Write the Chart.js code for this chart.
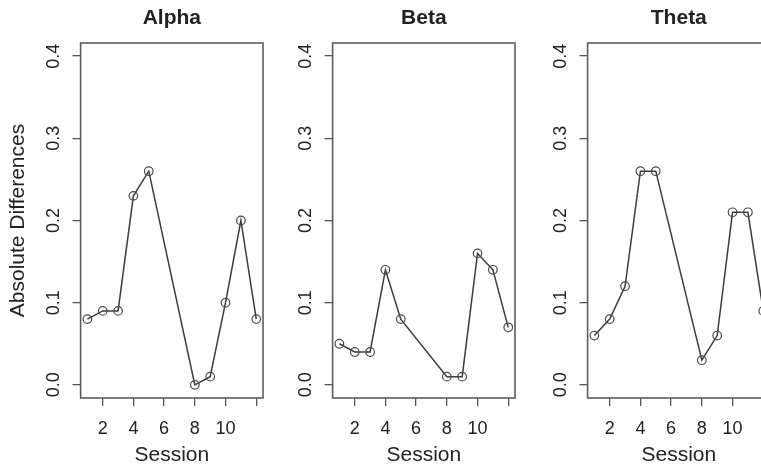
<!DOCTYPE html>
<html>
<head>
<meta charset="utf-8">
<script src="https://cdn.jsdelivr.net/npm/chart.js@4"></script>
<style>
  html, body { margin: 0; padding: 0; background: #fff; }
  body { position: relative; width: 761px; height: 472px; overflow: hidden; }
  canvas { position: absolute; top: 0; }
</style>
</head>
<body>
<canvas id="alpha"></canvas>
<canvas id="beta"></canvas>
<canvas id="theta"></canvas>
<script>
// Sessions 6 and 7 have no measurement, lines jump from 5 to 8
const sessions = [1, 2, 3, 4, 5, 8, 9, 10, 11, 12];
const alphaValues = [0.08, 0.09, 0.09, 0.23, 0.26, 0.00, 0.01, 0.10, 0.20, 0.08];
const betaValues = [0.05, 0.04, 0.04, 0.14, 0.08, 0.01, 0.01, 0.16, 0.14, 0.07];
const thetaValues = [0.06, 0.08, 0.12, 0.26, 0.26, 0.03, 0.06, 0.21, 0.21, 0.09];

const xTicks = [2, 4, 6, 8, 10, 12];
const xTickLabels = ['2', '4', '6', '8', '10', ''];
const yTicks = [0, 0.1, 0.2, 0.3, 0.4];
const yTickLabels = ['0.0', '0.1', '0.2', '0.3', '0.4'];

const FONT = "'Liberation Sans', Arial, Helvetica, sans-serif";
const TEXT = '#222';

// layout (px)
const AXIS_W = 80.6;   // y axis strip left of the plot box
const BOX_W = 182.4;
const BOX_TOP = 43;
const X_AXIS_H = 74;
const RIGHT_PAD = 8;

// R style frame round the plot region
const boxPlugin = {
  id: 'rbox',
  beforeDatasetsDraw(chart) {
    const { ctx, chartArea: a } = chart;
    ctx.save();
    ctx.strokeStyle = '#5c5c5c';
    ctx.lineWidth = 1.6;
    ctx.strokeRect(a.left, a.top, a.right - a.left, a.bottom - a.top);
    ctx.restore();
  }
};

function makePanel(id, left, title, values, showYTitle) {
  const canvas = document.getElementById(id);
  const w = AXIS_W + BOX_W + RIGHT_PAD;
  canvas.width = w;
  canvas.height = 472;
  canvas.style.left = (left - AXIS_W) + 'px';
  canvas.style.width = w + 'px';
  canvas.style.height = '472px';

  return new Chart(canvas.getContext('2d'), {
    type: 'line',
    data: {
      datasets: [{
        data: sessions.map((s, i) => ({ x: s, y: values[i] })),
        borderColor: '#3c3c3c',
        borderWidth: 1.5,
        tension: 0,
        fill: false,
        pointRadius: 4.3,
        pointBorderWidth: 1.2,
        pointBorderColor: '#4a4a4a',
        pointBackgroundColor: 'rgba(0,0,0,0)',
        clip: false
      }]
    },
    options: {
      responsive: false,
      animation: false,
      devicePixelRatio: 1,
      layout: { padding: { top: 0, right: RIGHT_PAD, bottom: 0, left: 0 } },
      plugins: {
        legend: { display: false },
        tooltip: { enabled: false },
        title: {
          display: true,
          text: title,
          fullSize: false,
          color: TEXT,
          font: { family: FONT, size: 21, weight: 'bold', lineHeight: 1.2 },
          padding: { top: 6, bottom: BOX_TOP - 6 - 25.2 }
        }
      },
      scales: {
        x: {
          type: 'linear',
          min: 0.56,
          max: 12.44,
          afterBuildTicks: s => { s.ticks = xTicks.map(v => ({ value: v })); },
          afterFit: s => { s.height = X_AXIS_H; },
          grid: { drawOnChartArea: false, drawTicks: true, tickLength: 8, color: '#555', lineWidth: 1.3 },
          border: { display: false },
          ticks: {
            autoSkip: false,
            maxRotation: 0,
            padding: 12,
            color: TEXT,
            font: { family: FONT, size: 18 },
            callback: (v, i) => xTickLabels[i]
          },
          title: {
            display: true,
            text: 'Session',
            color: TEXT,
            font: { family: FONT, size: 21 },
            padding: { top: 0, bottom: 4 }
          }
        },
        y: {
          type: 'linear',
          min: -0.016,
          max: 0.416,
          afterBuildTicks: s => { s.ticks = yTicks.map(v => ({ value: v })); },
          afterFit: s => { s.width = AXIS_W; },
          grid: { drawOnChartArea: false, drawTicks: true, tickLength: 8, color: '#555', lineWidth: 1.3 },
          border: { display: false },
          ticks: {
            autoSkip: false,
            minRotation: 90,
            maxRotation: 90,
            crossAlign: 'center',
            padding: 6,
            color: TEXT,
            font: { family: FONT, size: 18 },
            callback: (v, i) => yTickLabels[i]
          },
          title: {
            display: showYTitle,
            text: 'Absolute Differences',
            color: TEXT,
            font: { family: FONT, size: 21 },
            padding: { top: 6, bottom: 0 }
          }
        }
      }
    },
    plugins: [boxPlugin]
  });
}

makePanel('alpha', 80.6, 'Alpha', alphaValues, true);
makePanel('beta', 332.7, 'Beta', betaValues, false);
makePanel('theta', 587.7, 'Theta', thetaValues, false);
</script>
</body>
</html>
